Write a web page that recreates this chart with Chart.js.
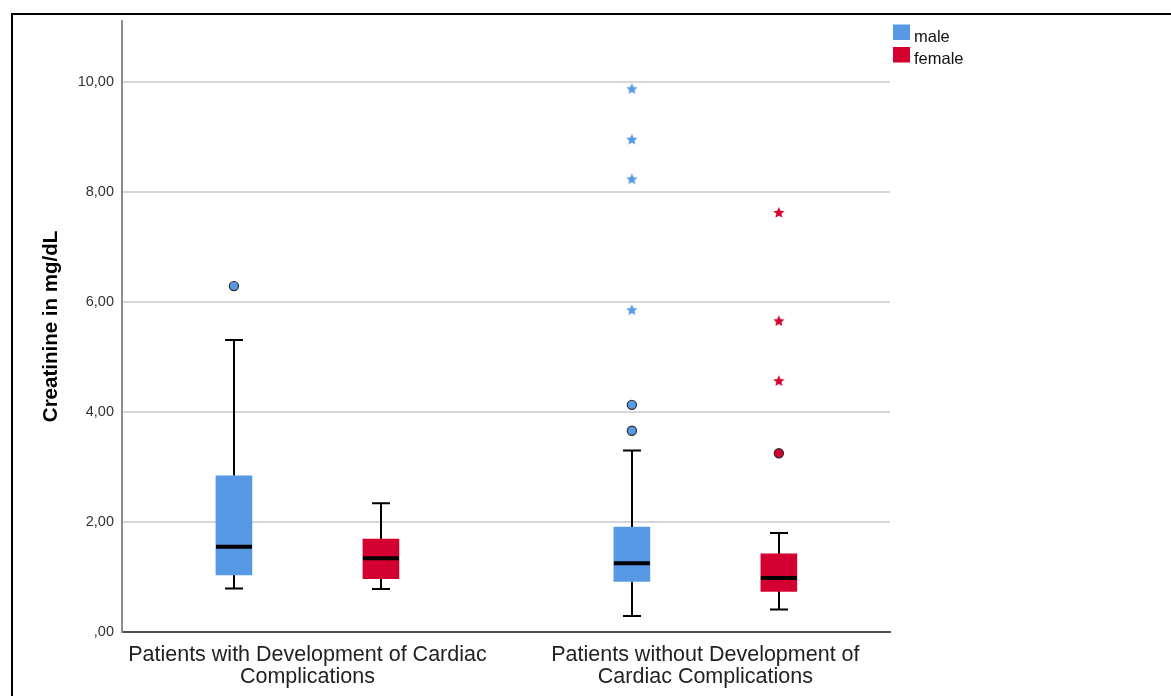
<!DOCTYPE html>
<html>
<head>
<meta charset="utf-8">
<script src="https://cdn.jsdelivr.net/npm/chart.js@4.4.1/dist/chart.umd.min.js"></script>
<style>
  html, body { margin: 0; padding: 0; background: #fff; overflow: hidden; }
  #wrap { position: relative; width: 1171px; height: 696px; }
  #frame { position: absolute; left: 11px; top: 13px; width: 2000px; height: 2000px;
           border-top: 2px solid #000; border-left: 2px solid #000; pointer-events: none; }
  canvas { display: block; }
</style>
</head>
<body>
<div id="wrap">
  <canvas id="c" width="1171" height="696"></canvas>
  <div id="frame"></div>
</div>
<script>
// Groups on the x axis (one label line per array entry)
const groupLabels = [
  ['Patients with Development of Cardiac', 'Complications'],
  ['Patients without Development of', 'Cardiac Complications']
];
const seriesNames = ['male', 'female'];

// Five-number summaries per group, creatinine in mg/dL
const maleMin    = [0.79, 0.29];
const maleQ1     = [1.04, 0.92];
const maleMedian = [1.55, 1.25];
const maleQ3     = [2.84, 1.91];
const maleMax    = [5.31, 3.30];

const femaleMin    = [0.78, 0.41];
const femaleQ1     = [0.97, 0.74];
const femaleMedian = [1.34, 0.98];
const femaleQ3     = [1.69, 1.42];
const femaleMax    = [2.34, 1.80];

// Outliers (circles) and extreme values (stars) per group
const maleOutliers   = [[6.29], [4.13, 3.66]];
const femaleOutliers = [[], [3.25]];
const maleExtremes   = [[], [9.87, 8.95, 8.23, 5.85]];
const femaleExtremes = [[], [7.62, 5.65, 4.56]];

const yTickValues = [0, 2, 4, 6, 8, 10];

// ---- styling / layout ----
const MALE_COLOR = '#5799E4';
const FEMALE_COLOR = '#D4002F';
const SIDE = 0.1847;          // horizontal shift of each sex within a group
const BOX_W = 36;             // box width in px
const CAP_W = 18;             // whisker cap width in px
const FONT = "'Liberation Sans', Arial, sans-serif";

Chart.defaults.font.family = FONT;

function makeStar(color, r) {
  const s = Math.ceil(r * 2 + 2);
  const c = document.createElement('canvas');
  c.width = s; c.height = s;
  const g = c.getContext('2d');
  g.beginPath();
  for (let k = 0; k < 10; k++) {
    const a = -Math.PI / 2 + k * Math.PI / 5;
    const rad = k % 2 ? r * 0.45 : r;
    const px = s / 2 + rad * Math.cos(a), py = s / 2 + rad * Math.sin(a);
    if (k === 0) g.moveTo(px, py); else g.lineTo(px, py);
  }
  g.closePath();
  g.fillStyle = color;
  g.fill();
  return c;
}

const series = [
  { name: seriesNames[0], color: MALE_COLOR, shift: -SIDE,
    min: maleMin, q1: maleQ1, med: maleMedian, q3: maleQ3, max: maleMax,
    out: maleOutliers, ext: maleExtremes },
  { name: seriesNames[1], color: FEMALE_COLOR, shift: SIDE,
    min: femaleMin, q1: femaleQ1, med: femaleMedian, q3: femaleQ3, max: femaleMax,
    out: femaleOutliers, ext: femaleExtremes }
];

function pointsFrom(lists, shift) {
  const pts = [];
  lists.forEach((vals, g) => vals.forEach(v => pts.push({ x: g + 1 + shift, y: v })));
  return pts;
}

const datasets = [];
series.forEach(s => {
  datasets.push({
    type: 'bar',
    label: s.name,
    data: groupLabels.map((_, g) => ({ x: g + 1 + s.shift, y: [s.q1[g], s.q3[g]] })),
    backgroundColor: s.color,
    borderWidth: 0,
    barThickness: BOX_W,
    grouped: false
  });
});
series.forEach(s => {
  datasets.push({
    type: 'scatter',
    label: s.name + ' outliers',
    data: pointsFrom(s.out, s.shift),
    pointStyle: 'circle',
    pointRadius: 4.6,
    backgroundColor: s.color,
    borderColor: '#2b2b2b',
    borderWidth: 1.2
  });
  datasets.push({
    type: 'scatter',
    label: s.name + ' extremes',
    data: pointsFrom(s.ext, s.shift),
    pointStyle: makeStar(s.color, 6),
    pointRadius: 6
  });
});

// whiskers + caps behind the boxes, medians on top, and the legend
const boxParts = {
  id: 'boxParts',
  beforeDatasetsDraw(chart) {
    const { ctx, scales: { x, y } } = chart;
    ctx.save();
    ctx.strokeStyle = '#000';
    ctx.lineWidth = 2;
    series.forEach(s => {
      groupLabels.forEach((_, g) => {
        const px = Math.round(x.getPixelForValue(g + 1 + s.shift));
        const yMin = y.getPixelForValue(s.min[g]);
        const yMax = y.getPixelForValue(s.max[g]);
        const yQ1 = y.getPixelForValue(s.q1[g]);
        const yQ3 = y.getPixelForValue(s.q3[g]);
        ctx.beginPath();
        ctx.moveTo(px, yMin); ctx.lineTo(px, yQ1);
        ctx.moveTo(px, yQ3); ctx.lineTo(px, yMax);
        ctx.moveTo(px - CAP_W / 2, yMin); ctx.lineTo(px + CAP_W / 2, yMin);
        ctx.moveTo(px - CAP_W / 2, yMax); ctx.lineTo(px + CAP_W / 2, yMax);
        ctx.stroke();
      });
    });
    ctx.restore();
  },
  afterDatasetsDraw(chart) {
    const { ctx, scales: { x, y } } = chart;
    ctx.save();
    ctx.strokeStyle = '#000';
    ctx.lineWidth = 4;
    series.forEach(s => {
      groupLabels.forEach((_, g) => {
        const px = x.getPixelForValue(g + 1 + s.shift);
        const py = y.getPixelForValue(s.med[g]);
        ctx.beginPath();
        ctx.moveTo(px - BOX_W / 2, py); ctx.lineTo(px + BOX_W / 2, py);
        ctx.stroke();
      });
    });
    ctx.restore();
  },
  afterDraw(chart) {
    const { ctx } = chart;
    ctx.save();
    ctx.font = '16.5px ' + FONT;
    ctx.textBaseline = 'alphabetic';
    series.forEach((s, i) => {
      const top = 24.5 + i * 22.5;
      ctx.fillStyle = s.color;
      ctx.fillRect(893, top, 17, 15.5);
      ctx.fillStyle = '#111';
      ctx.fillText(s.name, 914, top + 17);
    });
    ctx.restore();
  }
};

new Chart(document.getElementById('c'), {
  type: 'bar',
  data: { datasets },
  plugins: [boxParts],
  options: {
    responsive: false,
    devicePixelRatio: 1,
    animation: false,
    layout: { padding: { top: 21, right: 281, bottom: 0, left: 0 } },
    plugins: { legend: { display: false }, tooltip: { enabled: false } },
    scales: {
      x: {
        type: 'linear',
        min: 0.534,
        max: 2.464,
        offset: false,
        grid: { display: false, drawTicks: false },
        border: { display: true, color: '#505050', width: 2 },
        afterBuildTicks: s => { s.ticks = groupLabels.map((_, g) => ({ value: g + 1 })); },
        afterFit: s => { s.height = 64; },
        ticks: {
          autoSkip: false,
          maxRotation: 0,
          minRotation: 0,
          padding: 12,
          color: '#222',
          font: { size: 21.5, lineHeight: 1.03 },
          callback: v => groupLabels[Math.round(v) - 1]
        }
      },
      y: {
        type: 'linear',
        min: 0,
        max: 11.11,
        afterBuildTicks: s => { s.ticks = yTickValues.map(v => ({ value: v })); },
        afterFit: s => { s.width = 122; },
        grid: {
          drawTicks: false,
          lineWidth: 2,
          color: c => (c.tick && c.tick.value === 0) ? 'rgba(0,0,0,0)' : '#d6d6d6'
        },
        border: { display: true, color: '#8c8c8c', width: 2 },
        ticks: {
          padding: 8,
          color: '#333',
          font: { size: 14.5 },
          callback: v => v === 0 ? ',00' : v.toFixed(2).replace('.', ',')
        },
        title: {
          display: true,
          text: 'Creatinine in mg/dL',
          color: '#000',
          font: { size: 20.5, weight: 'bold' },
          padding: { top: 39, bottom: 0 }
        }
      }
    }
  }
});
</script>
</body>
</html>
